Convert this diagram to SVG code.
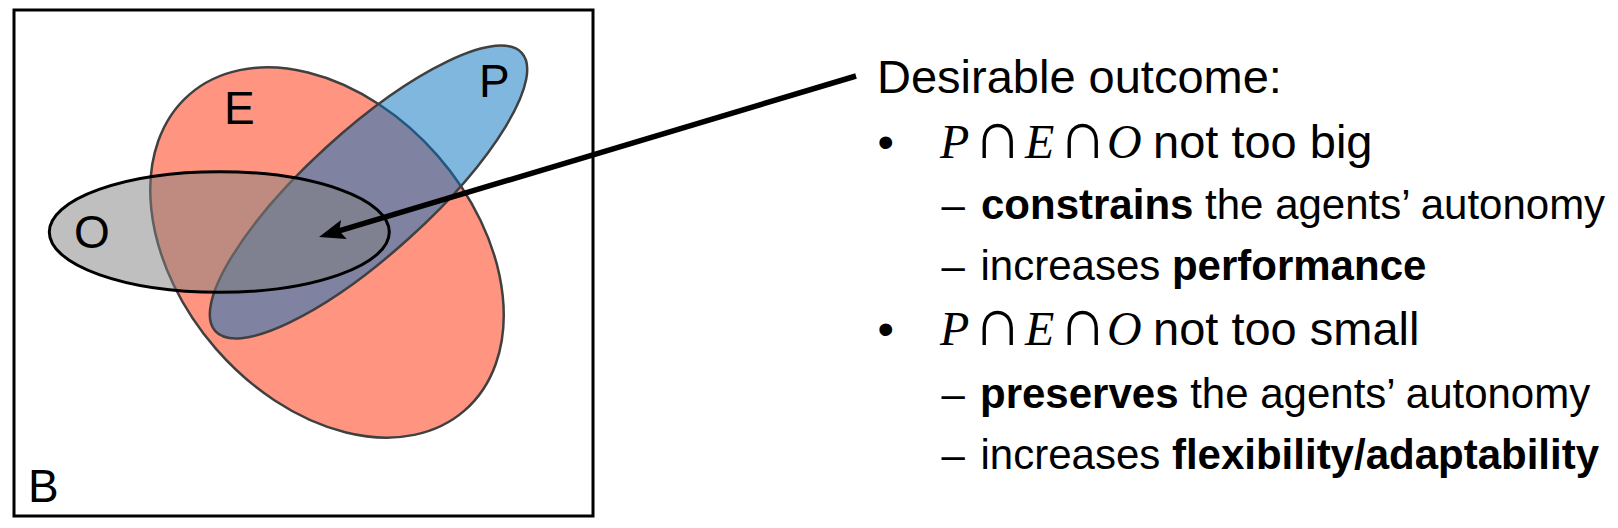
<svg xmlns="http://www.w3.org/2000/svg" width="1618" height="528" viewBox="0 0 1618 528">
<style>
.lbl{font-family:"Liberation Sans",Arial,sans-serif;font-size:46px;fill:#000}
.t1{font-family:"Liberation Sans",Arial,sans-serif;font-size:47px;fill:#000}
.t2{font-family:"Liberation Sans",Arial,sans-serif;font-size:42px;fill:#000}
.b{font-weight:bold}
.m{font-family:"Liberation Serif","Times New Roman",serif;font-style:italic;font-size:48px}
.cap{font-family:"Liberation Serif","DejaVu Serif",serif;font-size:68px}
.set{stroke:#404040;stroke-width:2.5}
</style>
<defs>
<marker id="ah" viewBox="0 0 26 22" refX="13" refY="11" markerWidth="26" markerHeight="22" markerUnits="userSpaceOnUse" orient="auto">
<path d="M0,1 L26,11 L0,21 L5,11 Z" fill="#000"/>
</marker>
</defs>
<rect width="1618" height="528" fill="#fff"/>
<g id="B">
<rect x="14" y="10" width="579" height="506" fill="none" stroke="#000" stroke-width="3"/>
<text class="lbl" x="28" y="502">B</text>
</g>
<g id="E">
<ellipse class="set" cx="327" cy="252.5" rx="209.5" ry="147" fill="#FF9480" transform="rotate(48.9 327 252.5)"/>
</g>
<g id="P">
<ellipse class="set" cx="368.5" cy="192" rx="207" ry="61.5" fill="#0070C0" fill-opacity="0.5" transform="rotate(-42.25 368.5 192)"/>
</g>
<g id="O">
<ellipse cx="219.3" cy="232" rx="170" ry="60.3" fill="#808080" fill-opacity="0.5" stroke="#000" stroke-width="3"/>
</g>
<g id="labels">
<text class="lbl" x="224" y="124">E</text>
<text class="lbl" x="479" y="97">P</text>
<text class="lbl" x="74" y="248">O</text>
</g>
<g id="connectors">
<line x1="856" y1="76" x2="331.5" y2="233.2" stroke="#000" stroke-width="5.5" marker-end="url(#ah)"/>
</g>
<g id="text">
<text class="t1" x="877" y="92.5">Desirable outcome:</text>
<text class="t1" x="877.5" y="157.5">•</text>
<text class="m" x="940" y="157.5">P</text><text class="cap" x="973" y="157.5">∩</text><text class="m" x="1025" y="157.5">E</text><text class="cap" x="1058" y="157.5">∩</text><text class="m" x="1107" y="157.5">O</text>
<text class="t1" x="1153" y="157.5">not too big</text>
<text class="t2" x="941.5" y="219">–</text>
<text class="t2" x="981" y="219"><tspan class="b">constrains</tspan> the agents’ autonomy</text>
<text class="t2" x="941.5" y="280">–</text>
<text class="t2" x="980.5" y="280">increases <tspan class="b">performance</tspan></text>
<text class="t1" x="877.5" y="344.5">•</text>
<text class="m" x="940" y="344.5">P</text><text class="cap" x="973" y="344.5">∩</text><text class="m" x="1025" y="344.5">E</text><text class="cap" x="1058" y="344.5">∩</text><text class="m" x="1107" y="344.5">O</text>
<text class="t1" x="1153" y="344.5">not too small</text>
<text class="t2" x="941.5" y="408">–</text>
<text class="t2" x="980" y="408"><tspan class="b">preserves</tspan> the agents’ autonomy</text>
<text class="t2" x="941.5" y="469">–</text>
<text class="t2" x="980.5" y="469">increases <tspan class="b">flexibility/adaptability</tspan></text>
</g>
</svg>
